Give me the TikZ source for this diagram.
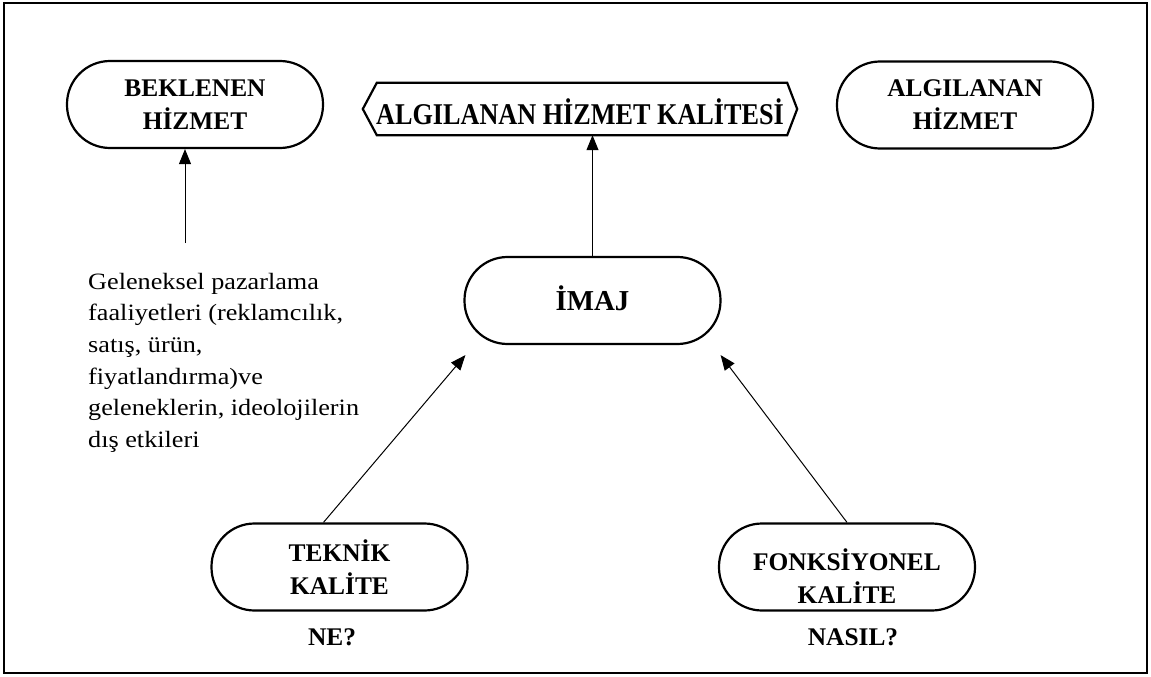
\documentclass[tikz,border=0pt]{standalone}
\usepackage{fontspec}
\setmainfont{Liberation Serif}
\usetikzlibrary{arrows.meta,calc}
\begin{document}
\begin{tikzpicture}[x=1bp,y=-1bp,
  box/.style={draw, line width=2.2bp, rectangle, rounded corners=43bp,
    minimum width=256bp, minimum height=87bp, inner sep=0pt, align=center,
    font=\bfseries\fontsize{25.5}{33}\selectfont},
  lbl/.style={inner sep=0pt, align=center, font=\bfseries\fontsize{25.5}{33}\selectfont},
  arr/.style={line width=1bp, -{Triangle[length=15bp,width=12bp]}},
]
\useasboundingbox (0,0) rectangle (1151,677);
\node[draw, line width=2bp, minimum width=1143bp, minimum height=670bp, inner sep=0pt] (frame) at (575.5,338) {};

\node[box] (bek) at (195,104.5) {BEKLENEN\\HİZMET};
\node[box] (alg) at (965,105) {ALGILANAN\\HİZMET};
\node[box, font=\bfseries\fontsize{29}{33}\selectfont, text height=20bp, text depth=0bp] (imaj) at (592.5,300.5) {İMAJ};
\node[box] (tek) at (339.5,567) {TEKNİK\\KALİTE};
\node[box] (fonk) at (847,567) {};
\node[lbl] (fonkt) at (847,576) {FONKSİYONEL\\KALİTE};

% hexagon
\node[inner sep=0pt, minimum width=434bp, minimum height=52bp] (hex) at (580,109) {};
\draw[line width=2.2bp] (hex.west) -- ([xshift=14bp]hex.north west) -- ([xshift=-10bp]hex.north east)
  -- (hex.east) -- ([xshift=-10bp]hex.south east) -- ([xshift=14bp]hex.south west) -- cycle;
\node[lbl, anchor=base, font=\bfseries\fontsize{26.3}{30}\selectfont] (hext) at (580,125)
  {\scalebox{1}[1.15]{ALGILANAN HİZMET KALİTESİ}};

% paragraph
\node[anchor=north west, inner sep=0pt, font=\fontsize{23.5}{31.7}\selectfont] (par) at (88,267)
  {\scalebox{1.12}[1]{\begin{tabular}{@{}l@{}}Geleneksel pazarlama\\faaliyetleri (reklamcılık,\\satış, ürün,\\fiyatlandırma)ve\\geleneklerin, ideolojilerin\\dış etkileri\end{tabular}}};

\node[lbl, anchor=base] (ne) at (332,645) {NE?};
\node[lbl, anchor=base] (nasil) at (853,645) {NASIL?};

% arrows
\coordinate (bsrc) at (185,243);
\draw[arr] (bsrc) -- (bsrc |- bek.south);
\draw[arr] (imaj.north) -- (imaj.north |- hex.south);
\draw[arr] ([xshift=-16bp]tek.north) -- ([xshift=2bp,yshift=-10bp]imaj.south west);
\draw[arr] (fonk.north) -- ([xshift=-1bp,yshift=-10bp]imaj.south east);
\end{tikzpicture}
\end{document}
